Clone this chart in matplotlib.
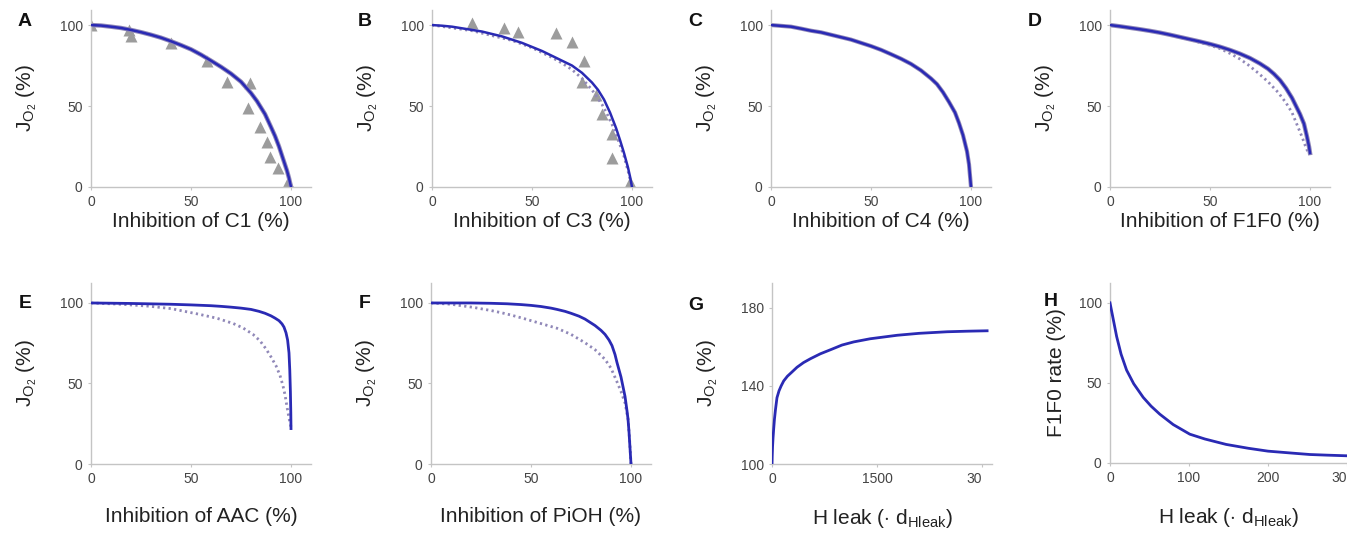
import numpy as np
import matplotlib.pyplot as plt

plt.rcParams['font.family'] = ['Liberation Sans', 'DejaVu Sans']
plt.rcParams['mathtext.fontset'] = 'custom'
plt.rcParams['mathtext.rm'] = 'Liberation Sans'
plt.rcParams['mathtext.it'] = 'Liberation Sans:italic'

# --- data ---
# A: complex I
a_x = [0, 5, 10, 15, 20, 25, 30, 35, 40, 45, 50, 55, 60, 65, 70, 75, 80, 83, 85, 87,
       90, 92, 94, 96, 98, 99, 100]
a_y = [100, 99.7, 99, 98.2, 97, 95.6, 94, 92.2, 90, 87.6, 85, 81.7, 78, 74.2, 70, 65,
       58, 53, 49, 45, 37, 31.5, 25, 17.5, 10, 5.5, 0]
a_exp_x = [0, 19, 20, 40, 58, 68, 79.5, 78.5, 84.5, 88, 89.5, 93.5, 98.5]
a_exp_y = [100, 97, 93, 89, 78, 65, 64, 49, 37, 28, 18.5, 12, 3]

# B: complex III
b_x = [0, 5, 10, 15, 20, 25, 30, 35, 40, 45, 50, 55, 60, 65, 70, 75, 80, 83, 86, 89,
       92, 94, 96, 98, 99, 100]
b_y = [100, 99.6, 99, 98, 97, 96, 94.5, 93, 91, 89, 86.5, 84, 81, 78, 75, 70.5, 64.5,
       60, 54, 46, 36.5, 29, 21, 12, 6.5, 0]
b_dot_x = [0, 20, 40, 50, 60, 65, 70, 75, 80, 85, 88, 91, 94, 96, 98, 100]
b_dot_y = [100, 96.5, 90.5, 86, 80, 76.5, 72.5, 67, 60, 51, 44, 36, 26, 19, 10, 0]
b_exp_x = [20, 36, 43, 62, 70, 76, 75, 82, 85, 90, 90, 99]
b_exp_y = [101, 98, 96, 95, 89.5, 78, 65, 57, 45, 33, 18, 3]

# C: complex IV
c_x = [0, 5, 10, 15, 20, 25, 30, 35, 40, 45, 50, 55, 60, 65, 70, 75, 80, 83, 86, 89,
       92, 94, 96, 98, 99, 100]
c_y = [100, 99.5, 99, 97.8, 96.5, 95.5, 94, 92.5, 91, 89, 87, 84.7, 82, 79.2, 76, 72,
       67, 63.5, 58.5, 52.5, 46, 39.5, 32, 22, 14, 0]

# D: F1F0
d_x = [0, 5, 10, 15, 20, 25, 30, 35, 40, 45, 50, 55, 60, 65, 70, 75, 79, 82, 85, 88,
       91, 93, 95, 97, 98.5, 99.5, 100]
d_y = [100, 99.2, 98.3, 97.4, 96.4, 95.3, 94, 92.6, 91.2, 89.8, 88.3, 86.6, 84.6, 82.3,
       79.6, 76.2, 73, 69.8, 66, 61, 55, 50, 45, 39, 31, 25, 21]
d_dot_x = [0, 20, 40, 50, 55, 60, 65, 69, 74, 79, 84, 88, 91, 94, 96, 97.5, 99]
d_dot_y = [100, 96.5, 91, 87.5, 85.5, 82.5, 79, 75.5, 70.5, 65, 58.5, 52, 46, 37, 31,
           26, 21.5]

# E: AAC
e_x = [0, 20, 40, 50, 60, 65, 70, 75, 80, 84, 87, 90, 92, 94, 95.5, 96.5, 97.5, 98.3,
       99, 99.4, 99.7, 99.9, 100]
e_y = [100, 99.7, 99.2, 98.8, 98.3, 97.9, 97.4, 96.8, 96, 94.8, 93.6, 92, 90.6, 89, 87,
       85, 81.5, 77, 69, 58, 45, 32, 22]
e_dot_x = [0, 15, 29, 40, 50, 54, 63, 71, 76, 81, 84.5, 87.5, 90, 92.5, 94.5, 96, 97,
           98, 99, 100]
e_dot_y = [100, 99.2, 98, 96.5, 94, 93, 90.5, 87.3, 84.5, 80.5, 76.5, 71.5, 66.5, 61,
           55, 48.5, 43, 35.5, 28.5, 23]

# F: PiOH
f_x = [0, 20, 30, 38, 45, 50, 55, 60, 63, 67, 70, 74, 77, 80, 82, 85, 87, 89, 90.5, 92,
       93, 94, 95, 96, 97, 98, 98.5, 99, 99.5, 100]
f_y = [100, 100, 99.8, 99.5, 99, 98.5, 97.8, 96.8, 96, 94.8, 93.6, 91.8, 90, 87.6, 86,
       83, 80.5, 77, 73.5, 68, 63, 58.5, 54, 48, 42, 33, 28, 20, 10, 0]
f_dot_x = [0, 10, 21, 30, 35, 40, 46.5, 55, 63, 70, 77, 82, 87, 90, 93, 95, 97, 98.5,
           99.3, 100]
f_dot_y = [100, 99.2, 97.3, 95.3, 94, 92.5, 90.3, 87.2, 84.3, 80.5, 75.3, 71, 65, 59.5,
           51, 45, 38, 28, 15, 0]

# G: H leak vs JO2
g_x = [0, 3, 8, 15, 24, 35, 50, 71, 100, 130, 167, 220, 280, 357, 450, 550, 690, 850,
       1000, 1167, 1400, 1786, 2100, 2500, 2800, 3070]
g_y = [100, 104, 109, 113.5, 118, 123, 128, 134, 137.5, 140, 142.6, 145, 147, 149.6,
       152, 154, 156.5, 158.8, 161, 162.6, 164.2, 166, 167, 167.8, 168.1, 168.3]

# H: H leak vs F1F0 rate
h_x = [0, 4, 8.4, 14, 21, 30, 42, 52, 63, 80, 101, 120, 147, 175, 200, 230, 253, 275, 300]
h_y = [100, 90, 79, 68, 58, 49.5, 41, 35.5, 30.5, 24, 18, 15, 11.6, 9.2, 7.4, 6.2, 5.3,
       4.9, 4.5]

xlabels = ['Inhibition of C1 (%)', 'Inhibition of C3 (%)', 'Inhibition of C4 (%)',
           'Inhibition of F1F0 (%)', 'Inhibition of AAC (%)', 'Inhibition of PiOH (%)',
           r'H leak ($\cdot$ d$_{\rm Hleak}$)', r'H leak ($\cdot$ d$_{\rm Hleak}$)']
jo2 = r'J$_{\rm O_2}$ (%)'
letters = ['A', 'B', 'C', 'D', 'E', 'F', 'G', 'H']

BLUE = '#2a2ab4'
DOT = '#9088b8'
TRI = '#9c9c9c'
W, H = 1347, 540

fig = plt.figure(figsize=(13.47, 5.40), dpi=100)


def make_ax(left, top, bottom, width):
    return fig.add_axes([left / W, (H - bottom) / H, width / W, (bottom - top) / H])


axes = [make_ax(91, 10, 187, 220), make_ax(432, 10, 187, 220),
        make_ax(771, 10, 187, 220), make_ax(1110, 10, 187, 220),
        make_ax(91, 283, 464, 220), make_ax(431, 283, 464, 220),
        make_ax(772, 283, 464, 220), make_ax(1110, 283, 463, 237)]

for ax in axes:
    for s in ['top', 'right']:
        ax.spines[s].set_visible(False)
    for s in ['left', 'bottom']:
        ax.spines[s].set_color('#c4c4c4')
        ax.spines[s].set_linewidth(1.0)
    ax.tick_params(length=2, width=0.8, color='#c4c4c4', labelsize=10,
                   labelcolor='#444444', pad=4)

dotted = (0, (0.8, 1.2))

ax = axes[0]
ax.plot(a_exp_x, a_exp_y, '^', color=TRI, ms=8, mec='none', zorder=1)
ax.plot(a_x, a_y, color=DOT, lw=3.2, zorder=2)
ax.plot(a_x, a_y, color=BLUE, lw=1.8, zorder=3)

ax = axes[1]
ax.plot(b_exp_x, b_exp_y, '^', color=TRI, ms=8, mec='none', zorder=1)
ax.plot(b_dot_x, b_dot_y, color=DOT, lw=2, ls=dotted, zorder=2)
ax.plot(b_x, b_y, color=BLUE, lw=1.8, zorder=3)

ax = axes[2]
ax.plot(c_x, c_y, color=DOT, lw=3.0, zorder=2)
ax.plot(c_x, c_y, color=BLUE, lw=1.8, zorder=3)

ax = axes[3]
ax.plot(d_dot_x, d_dot_y, color=DOT, lw=2, ls=dotted, zorder=2)
ax.plot(d_x, d_y, color=DOT, lw=3.2, zorder=2)
ax.plot(d_x, d_y, color=BLUE, lw=1.8, zorder=3)

ax = axes[4]
ax.plot(e_dot_x, e_dot_y, color=DOT, lw=2, ls=dotted, zorder=2)
ax.plot(e_x, e_y, color=BLUE, lw=2.0, zorder=3)

ax = axes[5]
ax.plot(f_dot_x, f_dot_y, color=DOT, lw=2, ls=dotted, zorder=2)
ax.plot(f_x, f_y, color=BLUE, lw=2.0, zorder=3)

ax = axes[6]
ax.plot(g_x, g_y, color=BLUE, lw=2.0, zorder=3)

ax = axes[7]
ax.plot(h_x, h_y, color=BLUE, lw=2.0, zorder=3)

for i in range(6):
    ax = axes[i]
    ax.set_xlim(0, 110)
    ax.set_xticks([0, 50, 100])
    ax.set_yticks([0, 50, 100])
    ax.set_ylim(0, 109.3 if i < 4 else 112.4)

axes[6].set_xlim(0, 3140)
axes[6].set_ylim(100, 192.8)
axes[6].set_xticks([0, 1500, 3000])
axes[6].set_xticklabels(['0', '1500', '30'])
axes[6].set_yticks([100, 140, 180])
axes[6].get_xticklabels()[-1].set_horizontalalignment('right')

axes[7].set_xlim(0, 300)
axes[7].set_ylim(0, 112.4)
axes[7].set_xticks([0, 100, 200, 300])
axes[7].set_xticklabels(['0', '100', '200', '30'])
axes[7].set_yticks([0, 50, 100])
axes[7].get_xticklabels()[-1].set_horizontalalignment('right')

for i, ax in enumerate(axes):
    ax.set_xlabel(xlabels[i], fontsize=15, color='#222222')
    ax.xaxis.set_label_coords(0.5, -0.141 if i < 4 else -0.237)
    if i == 7:
        ax.set_ylabel('F1F0 rate (%)', fontsize=15, color='#222222')
        ax.yaxis.set_label_coords(-0.187, 0.5)
    else:
        ax.set_ylabel(jo2, fontsize=15, color='#222222')
        ax.yaxis.set_label_coords(-0.238, 0.5)

letter_pos = [(25, 22), (365, 22), (695, 22), (1035, 22),
              (25, 303), (365, 303), (696, 305), (1051, 302)]
for lab, (px, py) in zip(letters, letter_pos):
    fig.text(px / W, 1 - py / H, lab, fontsize=14, fontweight='bold',
             ha='center', va='center', color='#111111')

fig.savefig('out.png', dpi=100)
